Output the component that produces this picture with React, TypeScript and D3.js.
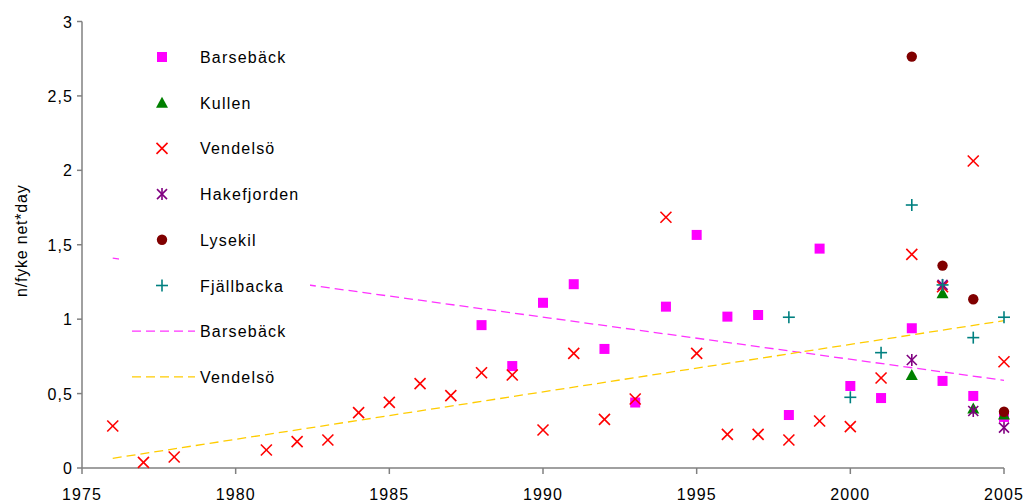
import React from "react";
import * as d3 from "d3";

const barsebackYears = [1988, 1989, 1990, 1991, 1992, 1993, 1994, 1995, 1996, 1997, 1998, 1999, 2000, 2001, 2002, 2003, 2004, 2005];
const barsebackVals = [0.96, 0.685, 1.11, 1.235, 0.80, 0.44, 1.084, 1.566, 1.017, 1.028, 0.356, 1.474, 0.551, 0.47, 0.939, 0.585, 0.484, 0.343];

const kullenYears = [2002, 2003, 2004, 2005];
const kullenVals = [0.625, 1.174, 0.40, 0.36];

const vendelsoYears = [1976, 1977, 1978, 1981, 1982, 1983, 1984, 1985, 1986, 1987, 1988, 1989, 1990, 1991, 1992, 1993, 1994, 1995, 1996, 1997, 1998, 1999, 2000, 2001, 2002, 2003, 2004, 2005];
const vendelsoVals = [0.282, 0.038, 0.074, 0.121, 0.177, 0.188, 0.372, 0.441, 0.567, 0.486, 0.64, 0.625, 0.255, 0.77, 0.327, 0.464, 1.685, 0.77, 0.226, 0.226, 0.188, 0.316, 0.278, 0.605, 1.435, 1.218, 2.063, 0.714];

const hakefjordenYears = [2002, 2003, 2004, 2005];
const hakefjordenVals = [0.726, 1.23, 0.383, 0.271];

const lysekilYears = [2002, 2003, 2004, 2005];
const lysekilVals = [2.764, 1.36, 1.134, 0.378];

const fjallbackaYears = [1998, 2000, 2001, 2002, 2003, 2004, 2005];
const fjallbackaVals = [1.013, 0.475, 0.775, 1.767, 1.23, 0.876, 1.013];

const barsebackTrendYears = [1976, 2005];
const barsebackTrendVals = [1.41, 0.589];
const vendelsoTrendYears = [1976, 2005];
const vendelsoTrendVals = [0.065, 0.99];

const xTicks = [1975, 1980, 1985, 1990, 1995, 2000, 2005];
const yTicks = [0, 0.5, 1, 1.5, 2, 2.5, 3];

const yLabel = "n/fyke net*day";

type Shape = "square" | "triangle" | "x" | "star" | "circle" | "plus";

const scatterSeries: { name: string; years: number[]; vals: number[]; shape: Shape; color: string }[] = [
  { name: "Barsebäck", years: barsebackYears, vals: barsebackVals, shape: "square", color: "#FF00FF" },
  { name: "Kullen", years: kullenYears, vals: kullenVals, shape: "triangle", color: "#008000" },
  { name: "Vendelsö", years: vendelsoYears, vals: vendelsoVals, shape: "x", color: "#FF0000" },
  { name: "Hakefjorden", years: hakefjordenYears, vals: hakefjordenVals, shape: "star", color: "#800080" },
  { name: "Lysekil", years: lysekilYears, vals: lysekilVals, shape: "circle", color: "#800000" },
  { name: "Fjällbacka", years: fjallbackaYears, vals: fjallbackaVals, shape: "plus", color: "#008080" },
];

const trendSeries = [
  { name: "Barsebäck", years: barsebackTrendYears, vals: barsebackTrendVals, color: "#FF33FF" },
  { name: "Vendelsö", years: vendelsoTrendYears, vals: vendelsoTrendVals, color: "#FFCC00" },
];

function Marker({ shape, color, x, y }: { shape: Shape; color: string; x: number; y: number }) {
  const sw = 1.6;
  switch (shape) {
    case "square":
      return <rect x={x - 5} y={y - 5} width={10} height={10} fill={color} />;
    case "triangle":
      return <path d={`M${x},${y - 6}L${x + 6},${y + 5}L${x - 6},${y + 5}Z`} fill={color} />;
    case "x":
      return (
        <g stroke={color} strokeWidth={sw}>
          <line x1={x - 5.5} y1={y - 5.5} x2={x + 5.5} y2={y + 5.5} />
          <line x1={x - 5.5} y1={y + 5.5} x2={x + 5.5} y2={y - 5.5} />
        </g>
      );
    case "star":
      return (
        <g stroke={color} strokeWidth={sw}>
          <line x1={x - 5} y1={y - 5} x2={x + 5} y2={y + 5} />
          <line x1={x - 5} y1={y + 5} x2={x + 5} y2={y - 5} />
          <line x1={x} y1={y - 6} x2={x} y2={y + 6} />
        </g>
      );
    case "circle":
      return <circle cx={x} cy={y} r={5.2} fill={color} />;
    case "plus":
      return (
        <g stroke={color} strokeWidth={sw}>
          <line x1={x - 6} y1={y} x2={x + 6} y2={y} />
          <line x1={x} y1={y - 6} x2={x} y2={y + 6} />
        </g>
      );
  }
}

export default function App() {
  const W = 1025;
  const H = 501;
  const x = d3.scaleLinear().domain([1975, 2005]).range([82, 1004]);
  const y = d3.scaleLinear().domain([0, 3]).range([468, 21.5]);
  const fmt = (v: number) => String(v).replace(".", ",");
  const font = "'Liberation Sans', Arial, sans-serif";
  const axisColor = "#808080";
  const line = d3
    .line<[number, number]>()
    .x((d) => x(d[0]))
    .y((d) => y(d[1]));

  const legendX = 162;
  const legendTextX = 200;
  const legendY0 = 57;
  const legendStep = 45.7;

  return (
    <svg
      width={W}
      height={H}
      style={{ position: "absolute", left: 0, top: 0, background: "#fff" }}
      fontFamily={font}
    >
      <rect x={0} y={0} width={W} height={H} fill="#fff" />
      {/* trend lines */}
      {trendSeries.map((t) => (
        <path
          key={t.name}
          d={line(t.years.map((yr, i) => [yr, t.vals[i]] as [number, number])) || ""}
          fill="none"
          stroke={t.color}
          strokeWidth={1.3}
          strokeDasharray="9,5"
        />
      ))}
      {/* axes */}
      <line x1={x(1975)} y1={y(0)} x2={x(2005)} y2={y(0)} stroke={axisColor} strokeWidth={1.5} />
      <line x1={x(1975)} y1={y(0)} x2={x(1975)} y2={y(3)} stroke={axisColor} strokeWidth={1.5} />
      {xTicks.map((t) => (
        <g key={t}>
          <line x1={x(t)} y1={y(0)} x2={x(t)} y2={y(0) + 6} stroke={axisColor} strokeWidth={1.5} />
          <text x={x(t)} y={499.5} textAnchor="middle" fontSize={16} letterSpacing={1.1} fill="#000">
            {t}
          </text>
        </g>
      ))}
      {yTicks.map((t) => (
        <g key={t}>
          <line x1={x(1975) - 5} y1={y(t)} x2={x(1975)} y2={y(t)} stroke={axisColor} strokeWidth={1.5} />
          <text x={73} y={y(t) + 6} textAnchor="end" fontSize={16} letterSpacing={1.1} fill="#000">
            {fmt(t)}
          </text>
        </g>
      ))}
      <text
        transform={`translate(27,${y(1.5) - 4}) rotate(-90)`}
        textAnchor="middle"
        fontSize={16}
        letterSpacing={0.8}
        fill="#000"
      >
        {yLabel}
      </text>
      {/* points */}
      {scatterSeries.map((s) => (
        <g key={s.name}>
          {s.years.map((yr, i) => (
            <Marker key={i} shape={s.shape} color={s.color} x={x(yr)} y={y(s.vals[i])} />
          ))}
        </g>
      ))}
      {/* legend */}
      <rect x={119} y={30} width={191} height={368} fill="#fff" />
      {scatterSeries.map((s, i) => (
        <g key={s.name}>
          <Marker shape={s.shape} color={s.color} x={legendX} y={legendY0 + i * legendStep} />
          <text x={legendTextX} y={legendY0 + i * legendStep + 6} fontSize={16} letterSpacing={1.2} fill="#000">
            {s.name}
          </text>
        </g>
      ))}
      {trendSeries.map((t, j) => {
        const ly = legendY0 + (scatterSeries.length + j) * legendStep;
        return (
          <g key={"lt" + t.name}>
            <line x1={132} y1={ly} x2={195} y2={ly} stroke={t.color} strokeWidth={1.3} strokeDasharray="9,5" />
            <text x={legendTextX} y={ly + 6} fontSize={16} letterSpacing={1.2} fill="#000">
              {t.name}
            </text>
          </g>
        );
      })}
    </svg>
  );
}
